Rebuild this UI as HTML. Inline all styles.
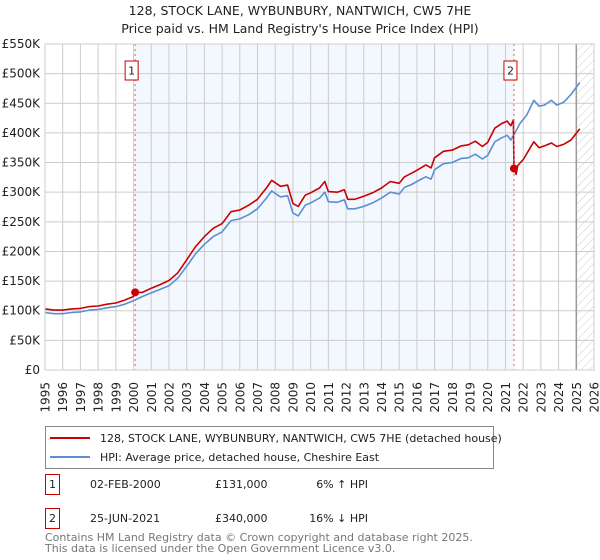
<!DOCTYPE html>
<html><head><meta charset="utf-8"><style>
body{margin:0;width:600px;height:560px;background:#fff;font-family:"DejaVu Sans","Liberation Sans",sans-serif;overflow:hidden}
svg{position:absolute;left:0;top:0}
</style></head><body>
<svg width="600" height="560" id="c">
<defs><pattern id="hatch" width="6" height="6" patternUnits="userSpaceOnUse" patternTransform="rotate(45)"><line x1="0" y1="0" x2="0" y2="6" stroke="#ccc" stroke-width="1"/></pattern></defs>
<text x="300" y="15" text-anchor="middle" font-size="12.5" fill="#222">128, STOCK LANE, WYBUNBURY, NANTWICH, CW5 7HE</text>
<text x="300" y="33" text-anchor="middle" font-size="12.5" fill="#222">Price paid vs. HM Land Registry's House Price Index (HPI)</text>
<g id="plot"></g>
<g>
<rect x="45.5" y="426.5" width="448" height="42" fill="#fff" stroke="#888"/>
<line x1="50" y1="438" x2="90" y2="438" stroke="#cc0000" stroke-width="2"/>
<text x="100" y="442" font-size="11" fill="#222">128, STOCK LANE, WYBUNBURY, NANTWICH, CW5 7HE (detached house)</text>
<line x1="50" y1="457" x2="90" y2="457" stroke="#5b8fd4" stroke-width="2"/>
<text x="100" y="461" font-size="11" fill="#222">HPI: Average price, detached house, Cheshire East</text>
</g>
<g font-size="11" fill="#222">
<rect x="45.5" y="474.5" width="14" height="20" fill="#fff" stroke="#cc0000"/>
<text x="52.5" y="488" text-anchor="middle">1</text>
<text x="90" y="488">02-FEB-2000</text><text x="215" y="488">£131,000</text><text x="368" y="488" text-anchor="end">6% ↑ HPI</text>
<rect x="45.5" y="508.5" width="14" height="20" fill="#fff" stroke="#cc0000"/>
<text x="52.5" y="522" text-anchor="middle">2</text>
<text x="90" y="522">25-JUN-2021</text><text x="215" y="522">£340,000</text><text x="368" y="522" text-anchor="end">16% ↓ HPI</text>
</g>
<text x="45" y="541" font-size="11" fill="#777">Contains HM Land Registry data © Crown copyright and database right 2025.</text>
<text x="45" y="552" font-size="11" fill="#777">This data is licensed under the Open Government Licence v3.0.</text>
</svg>
<script>
const hpiYears=[1995,1995.5,1996,1996.5,1997,1997.5,1998,1998.5,1999,1999.5,2000,2000.5,2001,2001.5,2002,2002.5,2003,2003.5,2004,2004.5,2005,2005.5,2006,2006.5,2007,2007.5,2007.8,2008.3,2008.7,2009,2009.3,2009.7,2010,2010.5,2010.8,2011,2011.5,2011.9,2012.1,2012.5,2013,2013.5,2014,2014.5,2015,2015.3,2015.7,2016,2016.5,2016.8,2017,2017.5,2018,2018.5,2018.9,2019.3,2019.7,2020,2020.4,2020.8,2021.1,2021.3,2021.5,2021.8,2022.2,2022.6,2022.9,2023.2,2023.6,2023.9,2024.3,2024.7,2025.2];
const hpiValues=[97,95,95,97,98,101,102,105,107,111,117,124,130,136,142,155,175,196,212,225,233,252,255,262,272,290,302,292,294,265,260,278,282,290,300,284,283,287,272,272,276,282,290,300,297,308,313,318,326,322,338,348,350,357,358,364,356,362,385,392,396,388,398,415,430,455,445,447,455,447,452,465,485];
const propYears=[1995,1995.5,1996,1996.5,1997,1997.5,1998,1998.5,1999,1999.5,2000,2000.09,2000.5,2001,2001.5,2002,2002.5,2003,2003.5,2004,2004.5,2005,2005.5,2006,2006.5,2007,2007.5,2007.8,2008.3,2008.7,2009,2009.3,2009.7,2010,2010.5,2010.8,2011,2011.5,2011.9,2012.1,2012.5,2013,2013.5,2014,2014.5,2015,2015.3,2015.7,2016,2016.5,2016.8,2017,2017.5,2018,2018.5,2018.9,2019.3,2019.7,2020,2020.4,2020.8,2021.1,2021.3,2021.45,2021.48,2021.6,2021.7,2022,2022.3,2022.6,2022.9,2023.2,2023.6,2023.9,2024.3,2024.7,2025.2];
const propValues=[103,101,101,103,104,107,108,111,113,118,124,131,131,138,144,151,164,186,208,225,239,247,267,270,278,288,307,320,310,312,281,276,295,299,307,318,301,300,304,288,288,293,299,307,318,315,326,332,337,346,341,358,369,371,378,380,386,377,384,408,416,420,412,422,340,330,345,355,370,385,375,378,383,377,381,388,407];
const yTicks=[0,50,100,150,200,250,300,350,400,450,500,550];
const xTicks=[1995,1996,1997,1998,1999,2000,2001,2002,2003,2004,2005,2006,2007,2008,2009,2010,2011,2012,2013,2014,2015,2016,2017,2018,2019,2020,2021,2022,2023,2024,2025,2026];
const sales=[{n:"1",year:2000.09,value:131},{n:"2",year:2021.48,value:340}];
const X0=45,X1=594,Y0=370,Y1=44;
const xs=y=>X0+(y-1995)/(2026-1995)*(X1-X0);
const ys=v=>Y0-v/550*(Y0-Y1);
const NS="http://www.w3.org/2000/svg";
const g=document.getElementById('plot');
function mk(t,a,p){const e=document.createElementNS(NS,t);for(const k in a)e.setAttribute(k,a[k]);(p||g).appendChild(e);return e;}
let e;
e=mk('rect',{x:xs(sales[0].year),y:Y1,width:xs(sales[1].year)-xs(sales[0].year),height:Y0-Y1,fill:'#eef3fd',opacity:0.7});


e=mk('rect',{x:xs(2025),y:Y1,width:X1-xs(2025),height:Y0-Y1,fill:'url(#hatch)'});


yTicks.forEach(v=>{
 e=mk('line',{x1:X0,x2:X1,y1:ys(v),y2:ys(v),stroke:'#ccc','stroke-width':1});
 
 
 e=mk('text',{x:40,y:ys(v)+4,'text-anchor':'end','font-size':12,fill:'#222'});
 e.textContent='£'+(v===0?'0':v+'K');
 
 
});
xTicks.forEach(v=>{
 e=mk('line',{x1:xs(v),x2:xs(v),y1:Y1,y2:Y0,stroke:'#ccc','stroke-width':1});
 
 
 e=mk('text',{x:0,y:0,'text-anchor':'end','font-size':12,fill:'#222',transform:`translate(${xs(v)+4.5},${Y0+12}) rotate(-90)`});
 e.textContent=v;
 
 
});
e=mk('line',{x1:xs(2025),x2:xs(2025),y1:Y1,y2:Y0,stroke:'#999','stroke-width':1.5});


function path(xsArr,vs,col,name){
 const d=xsArr.map((y,i)=>(i?'L':'M')+xs(y).toFixed(1)+','+ys(vs[i]).toFixed(1)).join('');
 const p=mk('path',{d:d,fill:'none',stroke:col,'stroke-width':1.6,'stroke-linejoin':'round'});
 
 
}
path(hpiYears,hpiValues,'#5b8fd4','hpi-line');
path(propYears,propValues,'#cc0000','property-price-line');
sales.forEach(s=>{
 e=mk('line',{x1:xs(s.year),x2:xs(s.year),y1:Y1,y2:Y0,stroke:'#e06060','stroke-width':1,'stroke-dasharray':'2,3'});
 
 
 e=mk('circle',{cx:xs(s.year),cy:ys(s.value),r:4,fill:'#cc0000'});
 
 
 e=mk('rect',{x:xs(s.year)-10,y:61,width:13,height:19,fill:'#fff',stroke:'#cc0000'});
 
 
 e=mk('text',{x:xs(s.year)-3.5,y:74.5,'text-anchor':'middle','font-size':11,fill:'#222'});
 e.textContent=s.n;
 
 
});
e=mk('rect',{x:X0,y:Y1,width:X1-X0,height:Y0-Y1,fill:'none',stroke:'#ccc'});


</script>
</body></html>
